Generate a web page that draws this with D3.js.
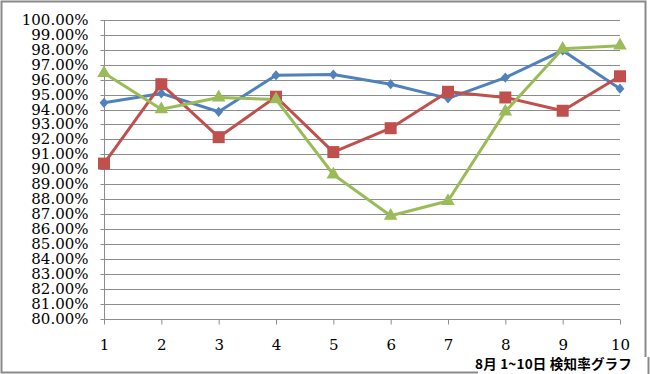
<!DOCTYPE html>
<html><head><meta charset="utf-8">
<script src="https://cdn.jsdelivr.net/npm/d3@7"></script>
<style>body{margin:0;background:#fff}svg{display:block}</style>
</head><body>
<svg id="c" width="650" height="374"></svg>
<script>
const categories = ["1","2","3","4","5","6","7","8","9","10"];
const seriesBlue  = [94.45, 95.08, 93.85, 96.30, 96.35, 95.70, 94.75, 96.14, 97.96, 95.40];
const seriesRed   = [90.38, 95.70, 92.15, 94.86, 91.15, 92.75, 95.19, 94.81, 93.92, 96.23];
const seriesGreen = [96.45, 94.02, 94.81, 94.68, 89.65, 86.88, 87.87, 93.86, 98.07, 98.28];
const yTicks = d3.range(80, 100.001, 1);
const caption = "8月 1~10日 検知率グラフ";

const svg = d3.select("#c");
const x = d3.scalePoint().domain(categories).range([104, 620]);
const y = d3.scaleLinear().domain([80, 100]).range([318.5, 20]);
const grid = "#8c8c8c";

// outer frame
svg.append("rect").attr("x",1.5).attr("y",1.5).attr("width",644).attr("height",371)
  .attr("fill","#fff").attr("stroke","#8a8a8a").attr("stroke-width",2);

// gridlines
svg.append("g").selectAll("line").data(yTicks).join("line")
  .attr("x1",104).attr("x2",620).attr("y1",d=>Math.round(y(d))+0.5).attr("y2",d=>Math.round(y(d))+0.5)
  .attr("stroke",grid).attr("stroke-width",1);

// y axis
const yAxis = d3.axisLeft(y).tickValues(yTicks).tickSize(4).tickPadding(12)
  .tickFormat(d=>d3.format(".2f")(d)+"%");
const gy = svg.append("g").attr("transform","translate(104.5,0)").call(yAxis);
gy.select(".domain").attr("stroke",grid).attr("d","M0,"+y(100)+"V"+(y(80)+5));
gy.selectAll(".tick line").attr("stroke",grid);
gy.selectAll(".tick").attr("transform",d=>"translate(0,"+(Math.round(y(d))+0.5)+")");
gy.selectAll("text").attr("font-family","DejaVu Serif").attr("font-size","15px").attr("fill","#000");

// x axis
const xAxis = d3.axisBottom(x).tickSize(5).tickPadding(15);
const gx = svg.append("g").attr("transform","translate(0,"+(Math.round(y(80))+0.5)+")").call(xAxis);
gx.select(".domain").remove();
gx.selectAll(".tick line").attr("stroke",grid);
gx.selectAll("text").attr("font-family","DejaVu Serif").attr("font-size","15px").attr("fill","#000");

const line = d3.line().x((d,i)=>x(categories[i])).y(d=>y(d));
const series = [
  {v: seriesBlue, c:"#4F81BD", sym:d3.symbolDiamond, s:30, sx:1.5},
  {v: seriesRed, c:"#C0504D", sym:d3.symbolSquare, s:144, sx:1},
  {v: seriesGreen, c:"#9BBB59", sym:d3.symbolTriangle, s:80, sx:1},
];
series.forEach(sr=>{
  svg.append("path").attr("d",line(sr.v)).attr("fill","none").attr("stroke",sr.c)
    .attr("stroke-width",3).attr("stroke-linejoin","round");
});
series.forEach(sr=>{
  svg.append("g").selectAll("path").data(sr.v).join("path")
    .attr("d",d3.symbol().type(sr.sym).size(sr.s))
    .attr("transform",(d,i)=>"translate("+x(categories[i])+","+y(d)+") scale("+sr.sx+",1)")
    .attr("fill",sr.c);
});

// caption box
svg.append("rect").attr("x",478).attr("y",357).attr("width",172).attr("height",17).attr("fill","#fff");
svg.append("line").attr("x1",648.5).attr("x2",648.5).attr("y1",357).attr("y2",374).attr("stroke","#8a8a8a").attr("stroke-width",2);
svg.append("text").attr("x",632).attr("y",369).attr("text-anchor","end")
  .attr("font-family","Noto Sans CJK JP").attr("font-weight","bold").attr("font-size","13.5px")
  .attr("letter-spacing","0.2px")
  .attr("fill","#000").text(caption);
</script>
</body></html>
